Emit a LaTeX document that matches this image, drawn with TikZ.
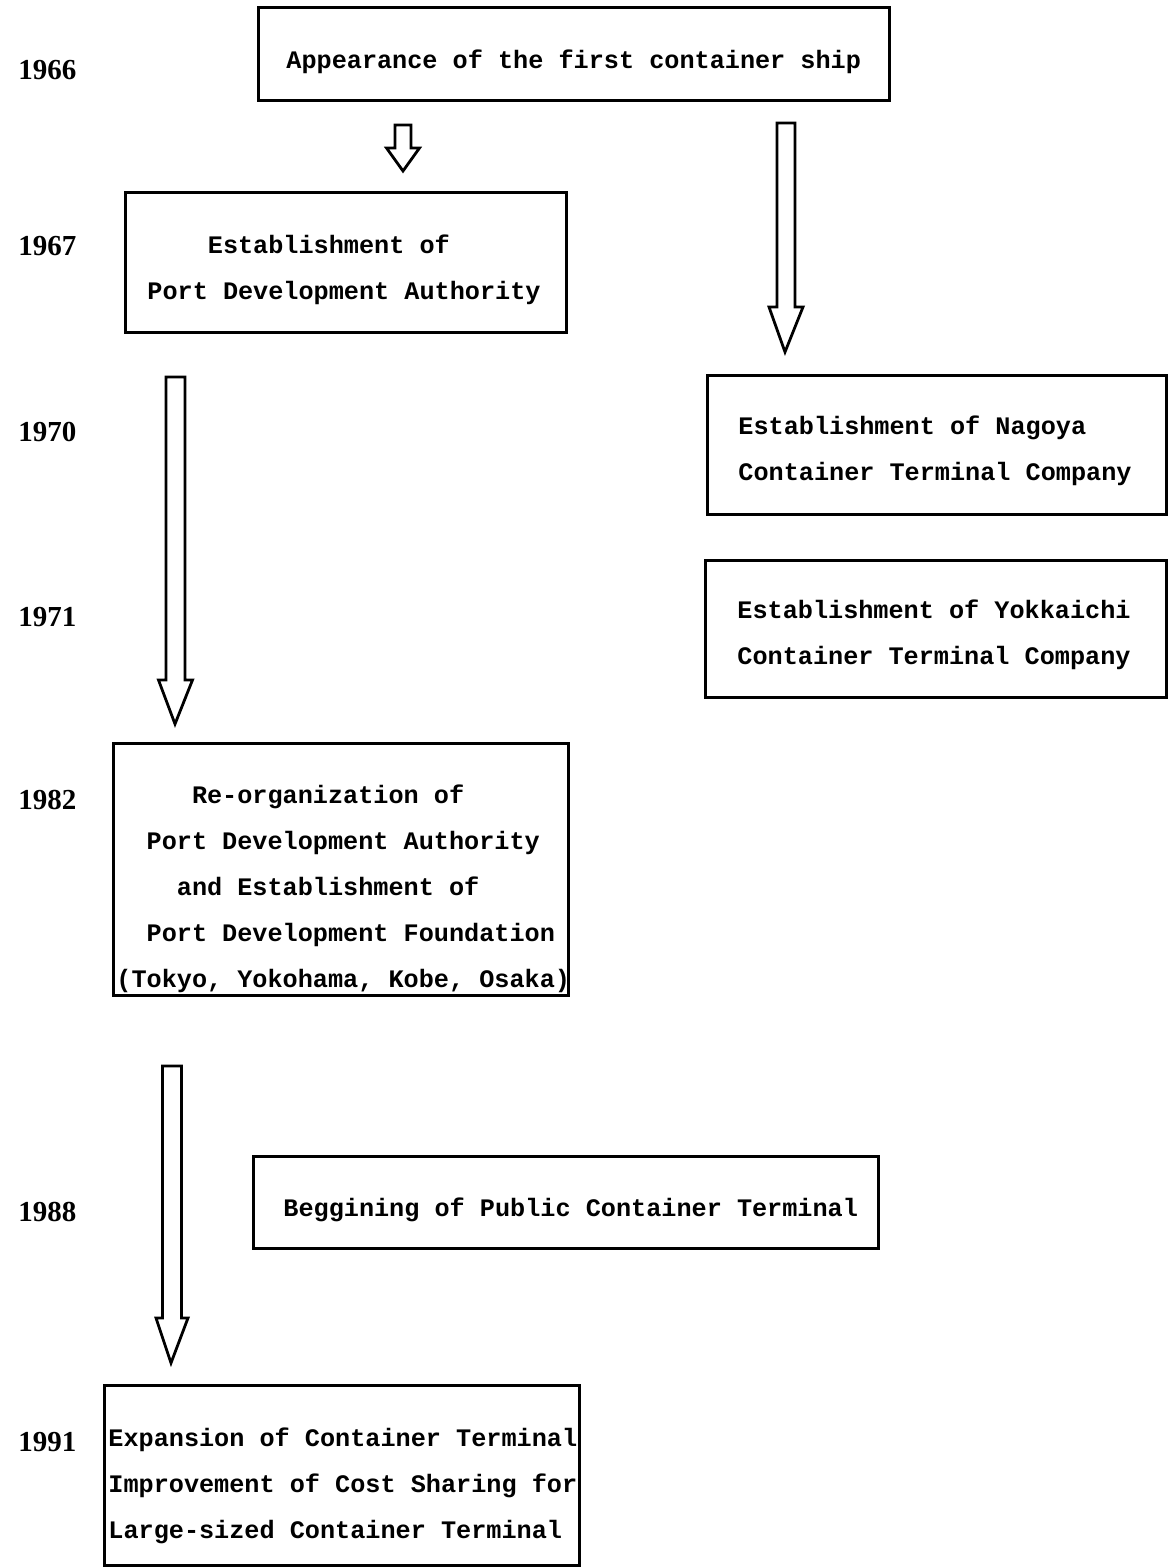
\documentclass[tikz,border=0pt]{standalone}
\usepackage{fontspec}
\setmainfont{Liberation Serif}
\newfontfamily\twfont{Liberation Mono}
\usetikzlibrary{calc}
\tikzset{
  box/.style={draw, line width=1.5pt, inner sep=0pt},
  txt/.style={font=\twfont\bfseries\fontsize{12.6pt}{23pt}\selectfont, align=left, inner sep=0pt, anchor=west},
  yr/.style={font=\bfseries\fontsize{14.5pt}{16pt}\selectfont, anchor=west, inner sep=0pt},
  blk/.style={draw, line width=1.4pt, line join=miter, fill=white},
}
% hollow block arrow: start, tip, shaft half width, head half width, head length
\newcommand{\blockarrow}[5]{%
  \draw[blk] let \p1=(#1), \p2=(#2) in
    (\x1-#3,\y1) -- (\x1+#3,\y1) -- (\x1+#3,\y2+#5) -- (\x1+#4,\y2+#5)
    -- (\x2,\y2) -- (\x1-#4,\y2+#5) -- (\x1-#3,\y2+#5) -- cycle;}
\begin{document}
\begin{tikzpicture}[x=0.5pt,y=-0.5pt]
\useasboundingbox (0,0) rectangle (1168,1567);

% years
\node[yr] (y66) at (18,70) {1966};
\node[yr] (y67) at (18,246) {1967};
\node[yr] (y70) at (18,432) {1970};
\node[yr] (y71) at (18,617) {1971};
\node[yr] (y82) at (18,800) {1982};
\node[yr] (y88) at (18,1212) {1988};
\node[yr] (y91) at (18,1442) {1991};

% boxes
\node[box, minimum width=315.5pt, minimum height=46.5pt] (app) at (573.5,54.5) {};
\node[txt] (appT) at (286,62) {Appearance of the first container ship};

\node[box, minimum width=220.5pt, minimum height=70pt] (pda) at (345.5,263) {};
\node[txt] (pdaT) at (147,269.5) {\hspace*{2.4em}Establishment of\\Port Development Authority};

\node[box, minimum width=229.5pt, minimum height=69.5pt] (nag) at (936.5,444.5) {};
\node[txt] (nagT) at (738,451) {Establishment of Nagoya\\Container Terminal Company};

\node[box, minimum width=230.5pt, minimum height=68.5pt] (yok) at (935.5,628.5) {};
\node[txt] (yokT) at (737,635) {Establishment of Yokkaichi\\Container Terminal Company};

\node[box, minimum width=227.5pt, minimum height=126pt] (reorg) at (340.5,869) {};
\node[txt] (reorgT) at (116,889) {\hspace*{3em}Re-organization of\\\hspace*{1.2em}Port Development Authority\\\hspace*{2.4em}and Establishment of\\\hspace*{1.2em}Port Development Foundation\\(Tokyo, Yokohama, Kobe, Osaka)};

\node[box, minimum width=312.5pt, minimum height=46pt] (beg) at (565.5,1202) {};
\node[txt] (begT) at (283,1210) {Beggining of Public Container Terminal};

\node[box, minimum width=237.5pt, minimum height=90pt] (exp) at (341.5,1475) {};
\node[txt] (expT) at (108,1485.5) {Expansion of Container Terminal\\Improvement of Cost Sharing for\\Large-sized Container Terminal};

% arrows
\coordinate (a1s) at (403,125);  \coordinate (a1e) at (403,171);
\coordinate (a2s) at (786,123);  \coordinate (a2e) at (785,352);
\coordinate (a3s) at (175.5,377); \coordinate (a3e) at (175,724);
\coordinate (a4s) at (172,1066); \coordinate (a4e) at (171,1363);
\blockarrow{a1s}{a1e}{4pt}{8.25pt}{11.5pt}
\blockarrow{a2s}{a2e}{4.5pt}{8.5pt}{22.5pt}
\blockarrow{a3s}{a3e}{4.75pt}{8.5pt}{22pt}
\blockarrow{a4s}{a4e}{4.75pt}{8pt}{22.5pt}
\end{tikzpicture}
\end{document}
